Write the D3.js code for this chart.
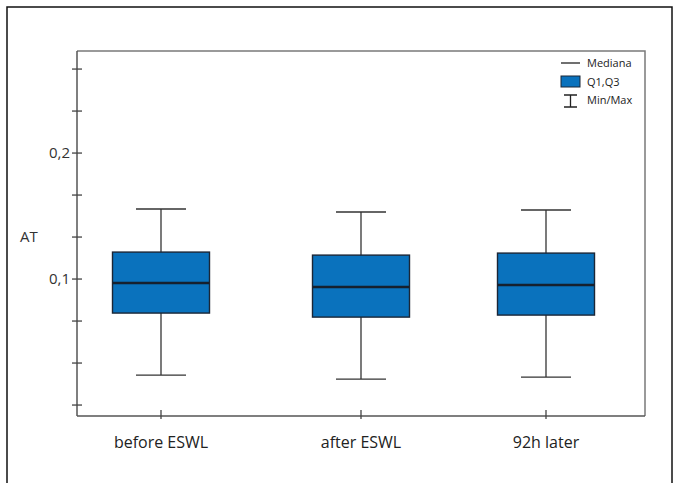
<!DOCTYPE html>
<html>
<head>
<meta charset="utf-8">
<script src="https://cdn.jsdelivr.net/npm/d3@7"></script>
<style>
  body { margin: 0; background: #fff; }
  text { font-family: "Open Sans", "Liberation Sans", sans-serif; }
</style>
</head>
<body>
<svg id="chart" width="681" height="483"></svg>
<script>
// data
const groups = ['before ESWL', 'after ESWL', '92h later']
const mins    = [0.0238, 0.0206, 0.0222]
const q1s     = [0.0730, 0.0698, 0.0714]
const medians = [0.0968, 0.0937, 0.0952]
const q3s     = [0.1214, 0.1190, 0.1206]
const maxs    = [0.1556, 0.1532, 0.1548]
const yTicks = [0, 1/30, 2/30, 0.1, 4/30, 5/30, 0.2, 7/30, 8/30]
const yLabels = {0.1: '0,1', 0.2: '0,2'}

const boxes = groups.map((g, i) => ({
    name: g, min: mins[i], q1: q1s[i], med: medians[i], q3: q3s[i], max: maxs[i]
}))

svg = d3.select('#chart')

// outer frame
svg.append('rect')
    .attr('x', 7).attr('y', 7)
    .attr('width', 665).attr('height', 500)
    .attr('fill', 'none')
    .attr('stroke', '#111')
    .attr('stroke-width', 1.5)

const plot = {left: 77, right: 645, top: 51, bottom: 416}

// categories are not evenly spaced in the original
const x = d3.scaleOrdinal()
    .domain(groups)
    .range([161, 361, 546])

const y = d3.scaleLinear()
    .domain([-0.0087, 0.281])
    .range([plot.bottom, plot.top])

// plot frame (top + right)
svg.append('path')
    .attr('d', `M${plot.left},${plot.top}H${plot.right}V${plot.bottom}`)
    .attr('fill', 'none')
    .attr('stroke', '#7a7a7a')
    .attr('stroke-width', 1.5)

// axes
svg.append('line')
    .attr('x1', plot.left).attr('x2', plot.left)
    .attr('y1', plot.top).attr('y2', plot.bottom)
    .attr('stroke', '#555').attr('stroke-width', 1.5)
svg.append('line')
    .attr('x1', plot.left).attr('x2', plot.right)
    .attr('y1', plot.bottom).attr('y2', plot.bottom)
    .attr('stroke', '#555').attr('stroke-width', 1.5)

svg.selectAll('.ytick')
    .data(yTicks)
    .join('line')
    .attr('class', 'ytick')
    .attr('x1', plot.left - 5).attr('x2', plot.left + 5)
    .attr('y1', d => y(d)).attr('y2', d => y(d))
    .attr('stroke', '#444').attr('stroke-width', 1.3)

svg.selectAll('.ylab')
    .data(yTicks.filter(d => yLabels[d]))
    .join('text')
    .attr('class', 'ylab')
    .attr('x', plot.left - 7)
    .attr('y', d => y(d) + 5)
    .attr('text-anchor', 'end')
    .attr('font-size', 15)
    .attr('fill', '#333')
    .text(d => yLabels[d])

svg.append('text')
    .attr('x', 20).attr('y', 242)
    .attr('font-size', 15)
    .attr('fill', '#333')
    .text('AT')

svg.selectAll('.xtick')
    .data(groups)
    .join('line')
    .attr('class', 'xtick')
    .attr('x1', d => x(d)).attr('x2', d => x(d))
    .attr('y1', plot.bottom - 6).attr('y2', plot.bottom + 3)
    .attr('stroke', '#444').attr('stroke-width', 1.3)

svg.selectAll('.xlab')
    .data(groups)
    .join('text')
    .attr('class', 'xlab')
    .attr('x', d => x(d))
    .attr('y', 448)
    .attr('text-anchor', 'middle')
    .attr('font-size', 16)
    .attr('fill', '#222')
    .text(d => d)

// boxes
const boxW = 97, capW = 50
const g = svg.selectAll('.box')
    .data(boxes)
    .join('g')
    .attr('class', 'box')

g.append('line')
    .attr('x1', d => x(d.name)).attr('x2', d => x(d.name))
    .attr('y1', d => y(d.max)).attr('y2', d => y(d.min))
    .attr('stroke', '#333').attr('stroke-width', 1.3)
g.selectAll('.cap')
    .data(d => [d.min, d.max].map(v => ({name: d.name, v: v})))
    .join('line')
    .attr('class', 'cap')
    .attr('x1', d => x(d.name) - capW / 2).attr('x2', d => x(d.name) + capW / 2)
    .attr('y1', d => y(d.v)).attr('y2', d => y(d.v))
    .attr('stroke', '#333').attr('stroke-width', 1.3)
g.append('rect')
    .attr('x', d => x(d.name) - boxW / 2)
    .attr('y', d => y(d.q3))
    .attr('width', boxW)
    .attr('height', d => y(d.q1) - y(d.q3))
    .attr('fill', '#0a72bd')
    .attr('stroke', '#1b2636')
    .attr('stroke-width', 1.4)
g.append('line')
    .attr('x1', d => x(d.name) - boxW / 2).attr('x2', d => x(d.name) + boxW / 2)
    .attr('y1', d => y(d.med)).attr('y2', d => y(d.med))
    .attr('stroke', '#16202e').attr('stroke-width', 2.5)

// legend
const lg = svg.append('g')
lg.append('line')
    .attr('x1', 561).attr('x2', 580).attr('y1', 63).attr('y2', 63)
    .attr('stroke', '#222').attr('stroke-width', 1.3)
lg.append('rect')
    .attr('x', 561).attr('y', 76).attr('width', 19).attr('height', 11)
    .attr('fill', '#0a72bd').attr('stroke', '#1b2636').attr('stroke-width', 1)
lg.append('path')
    .attr('d', 'M564,95H577M570.5,95V107M564,107H577')
    .attr('fill', 'none').attr('stroke', '#222').attr('stroke-width', 1.3)
const legendText = ['Mediana', 'Q1,Q3', 'Min/Max']
lg.selectAll('text')
    .data(legendText)
    .join('text')
    .attr('x', 587)
    .attr('y', (d, i) => 67 + i * 18.5)
    .attr('font-size', 11)
    .attr('fill', '#222')
    .text(d => d)
</script>
</body>
</html>
